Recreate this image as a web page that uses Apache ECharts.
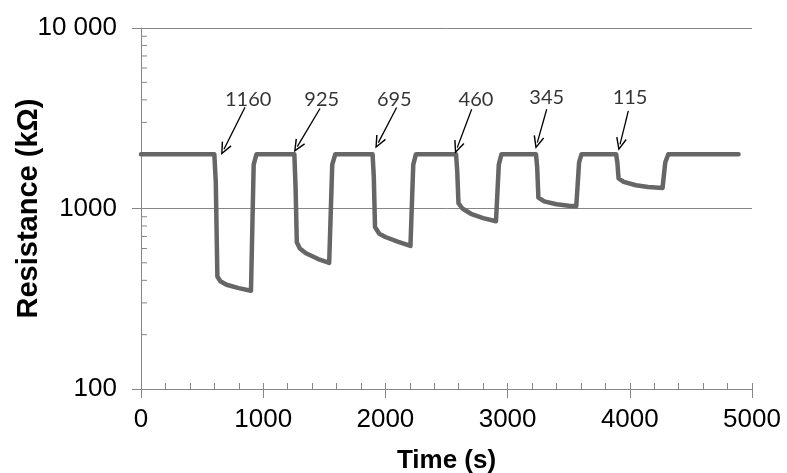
<!DOCTYPE html>
<html><head><meta charset="utf-8">
<script src="https://cdn.jsdelivr.net/npm/echarts@6/dist/echarts.min.js"></script>
<style>html,body{margin:0;padding:0;background:#fff}#c{width:787px;height:473px}</style>
</head><body><div id="c"></div>
<script>
// ---- data ----
const times = [0, 600, 612, 625, 650, 700, 800, 900, 912, 922, 945,
  1255, 1265, 1275, 1300, 1350, 1450, 1540, 1552, 1565, 1590,
  1895, 1905, 1915, 1950, 2000, 2100, 2205, 2215, 2228, 2250,
  2578, 2588, 2598, 2630, 2700, 2800, 2905, 2915, 2928, 2950,
  3232, 3242, 3252, 3300, 3400, 3500, 3562, 3572, 3585, 3605,
  3888, 3898, 3908, 3950, 4050, 4150, 4268, 4278, 4290, 4315, 4890];
const resistance = [2000, 2000, 1400, 420, 395, 378, 362, 350, 350, 1750, 2000,
  2000, 1300, 650, 600, 565, 525, 500, 500, 1750, 2000,
  2000, 1500, 790, 725, 695, 655, 620, 620, 1750, 2000,
  2000, 1600, 1070, 1000, 935, 885, 850, 850, 1750, 2000,
  2000, 1700, 1150, 1095, 1055, 1035, 1030, 1030, 1800, 2000,
  2000, 1800, 1470, 1405, 1345, 1315, 1300, 1300, 1800, 2000, 2000];

const yTickValues = [100, 1000, 10000];
const yTickLabels = ['100', '1000', '10 000'];
const yMinorTicks = [200, 300, 400, 500, 600, 700, 800, 900,
  2000, 3000, 4000, 5000, 6000, 7000, 8000, 9000];

const annLabels = ['1160', '925', '695', '460', '345', '115'];
const annLabelTime = [877, 1479, 2073, 2741, 3320, 4002];
const annLabelValue = [4030, 4030, 4030, 4030, 4120, 4120];
const annStartTime = [851, 1465, 2092, 2706, 3320, 3988];
const annStartValue = [3640, 3580, 3626, 3548, 3548, 3472];
const annTipTime = [679, 1279, 1942, 2588, 3243, 3920];
const annTipValue = [2128, 2202, 2317, 2174, 2317, 2267];

// ---- chart ----
const axisGrey = '#868686';
const tickFont = 'Liberation Sans, Arial, sans-serif';
const chevron = 'path://M5,0L10,11L8.8,11.6L5,3L1.2,11.6L0,11Z';

const chart = echarts.init(document.getElementById('c'), null, {renderer: 'canvas'});
chart.setOption({
  animation: false,
  backgroundColor: '#fff',
  grid: {left: 141, right: 35, top: 28, bottom: 84, containLabel: false, outerBoundsMode: 'none'},
  xAxis: [{
    type: 'value', min: 0, max: 5000, interval: 1000, position: 'bottom',
    axisLine: {show: true, lineStyle: {color: axisGrey, width: 1}},
    axisTick: {show: true, inside: false, length: 9, lineStyle: {color: axisGrey}},
    axisLabel: {fontSize: 26, fontFamily: tickFont, color: '#000', margin: 18,
      formatter: v => String(v)},
    splitLine: {show: false},
    name: 'Time (s)', nameLocation: 'middle', nameGap: 59, nameMoveOverlap: false,
    nameTextStyle: {fontSize: 26, fontWeight: 'bold', fontFamily: tickFont, color: '#000'}
  }, {
    type: 'value', min: 0, max: 5000, interval: 200, position: 'bottom',
    axisLine: {show: false},
    axisTick: {show: true, inside: true, length: 6, lineStyle: {color: axisGrey}},
    axisLabel: {show: false}, splitLine: {show: false}
  }],
  yAxis: [{
    type: 'log', logBase: 10, min: 100, max: 10000,
    axisLine: {show: true, lineStyle: {color: axisGrey, width: 1}},
    axisTick: {show: true, inside: false, length: 9, lineStyle: {color: axisGrey}},
    axisLabel: {fontSize: 26, fontFamily: tickFont, color: '#000', margin: 24,
      formatter: v => { const i = yTickValues.indexOf(Math.round(v)); return i >= 0 ? yTickLabels[i] : ''; }},
    splitLine: {show: true, lineStyle: {color: axisGrey, width: 1}},
    name: 'Resistance (kΩ)', nameLocation: 'middle', nameGap: 98, nameRotate: 90,
    nameMoveOverlap: false,
    nameTextStyle: {fontSize: 29, fontWeight: 'bold', fontFamily: tickFont, color: '#000'}
  }],
  series: [{
    type: 'line',
    data: times.map((t, i) => [t, resistance[i]]),
    showSymbol: false, symbol: 'none', silent: true, z: 3,
    lineStyle: {color: '#666666', width: 4.5, cap: 'round', join: 'round'}
  }, {
    type: 'custom', silent: true, z: 2,
    data: yMinorTicks.map(v => [0, v]),
    renderItem: (params, api) => {
      const p = api.coord([0, api.value(1)]);
      return {type: 'line', shape: {x1: p[0], y1: p[1], x2: p[0] + 6, y2: p[1]},
        style: {stroke: axisGrey, lineWidth: 1}};
    }
  }, {
    type: 'scatter', silent: true, z: 5,
    symbolSize: 0,
    data: annLabelTime.map((t, i) => [t, annLabelValue[i]]),
    label: {show: true, position: 'inside', formatter: p => annLabels[p.dataIndex],
      fontSize: 20, fontFamily: 'Lato, sans-serif', color: '#000'},
    markLine: {
      silent: true, animation: false,
      symbol: ['none', chevron], symbolSize: [11, 13],
      lineStyle: {color: '#000', width: 1.3, type: 'solid'},
      label: {show: false},
      data: annStartTime.map((t, i) => [
        {coord: [t, annStartValue[i]]},
        {coord: [annTipTime[i], annTipValue[i]]}
      ])
    }
  }]
});
</script>
</body></html>
